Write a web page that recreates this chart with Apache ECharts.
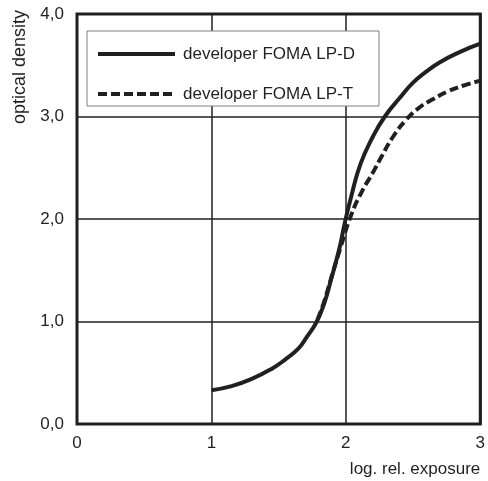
<!DOCTYPE html>
<html>
<head>
<meta charset="utf-8">
<script src="https://cdn.jsdelivr.net/npm/echarts@6/dist/echarts.min.js"></script>
<style>html,body{margin:0;padding:0;background:#fff}#c{width:488px;height:481px}</style>
</head>
<body>
<div id="c"></div>
<script>
var seriesNames = ['developer FOMA LP-D', 'developer FOMA LP-T'];
var lpD = [[1.0,0.33],[1.15,0.37],[1.3,0.44],[1.45,0.54],[1.55,0.63],[1.65,0.74],[1.71,0.85],[1.78,0.99],[1.84,1.18],[1.89,1.41],[1.955,1.73],[1.99,1.95],[2.04,2.22],[2.11,2.54],[2.2,2.8],[2.29,3.0],[2.4,3.18],[2.5,3.33],[2.6,3.44],[2.7,3.53],[2.85,3.63],[3.0,3.71]];
var lpT = [[1.79,1.02],[1.84,1.2],[1.89,1.42],[1.96,1.72],[2.04,2.04],[2.12,2.27],[2.2,2.45],[2.27,2.62],[2.35,2.8],[2.45,2.97],[2.55,3.09],[2.65,3.17],[2.75,3.24],[2.87,3.3],[3.0,3.35]];
var xTicks = ['0','1','2','3'];
var yTicks = ['0,0','1,0','2,0','3,0','4,0'];
var ink = '#231f20';
var font = 'Liberation Sans, Arial, sans-serif';
var chart = echarts.init(document.getElementById('c'));
chart.setOption({
  animation: false,
  grid: {left: 77, top: 14, right: 5, bottom: 57, show: true, borderColor: ink, borderWidth: 3, containLabel: false},
  legend: {
    left: 87, top: 31, orient: 'vertical',
    data: [
      {name: seriesNames[0], itemStyle: {opacity: 0}, lineStyle: {width: 4, color: ink, type: 'solid'}},
      {name: seriesNames[1], itemStyle: {opacity: 0}, lineStyle: {width: 4, color: ink, type: [9, 4]}}
    ],
    backgroundColor: '#fff', borderColor: '#808080', borderWidth: 1,
    padding: [14, 0, 3, 9], itemWidth: 77, itemHeight: 14, itemGap: 22,
    textStyle: {fontFamily: font, fontSize: 17, color: ink, lineHeight: 14, padding: [0,0,4,3], width: 196}
  },
  xAxis: {
    type: 'value', min: 0, max: 3, interval: 1,
    name: 'log. rel. exposure', nameLocation: 'end',
    nameGap: 0,
    nameTextStyle: {fontFamily: font, fontSize: 17, color: ink, align: 'right', verticalAlign: 'top', padding: [37, 0, 0, 0]},
    axisLine: {show: false}, axisTick: {show: false},
    axisLabel: {fontFamily: font, fontSize: 17, color: ink, margin: 11, formatter: function(v){return xTicks[Math.round(v)];}},
    splitLine: {show: true, lineStyle: {color: ink, width: 1.5}}
  },
  yAxis: {
    type: 'value', min: 0, max: 4, interval: 1,
    name: 'optical density', nameLocation: 'end', nameRotate: 90, nameGap: 4,
    nameTextStyle: {fontFamily: font, fontSize: 18, color: ink, align: 'right', verticalAlign: 'bottom', padding: [0, 0, 48, 0]},
    axisLine: {show: false}, axisTick: {show: false},
    axisLabel: {fontFamily: font, fontSize: 17, color: ink, margin: 13, formatter: function(v){return yTicks[Math.round(v)];}},
    splitLine: {show: true, lineStyle: {color: ink, width: 1.5}}
  },
  series: [
    {name: seriesNames[0], type: 'line', data: lpD, smooth: 0.5, symbol: 'none', z: 3,
     lineStyle: {color: ink, width: 4}, itemStyle: {color: ink}},
    {name: seriesNames[1], type: 'line', data: lpT, smooth: 0.5, symbol: 'none', z: 2,
     lineStyle: {color: ink, width: 4, type: [9, 4]}, itemStyle: {color: ink}}
  ]
});
</script>
</body>
</html>
